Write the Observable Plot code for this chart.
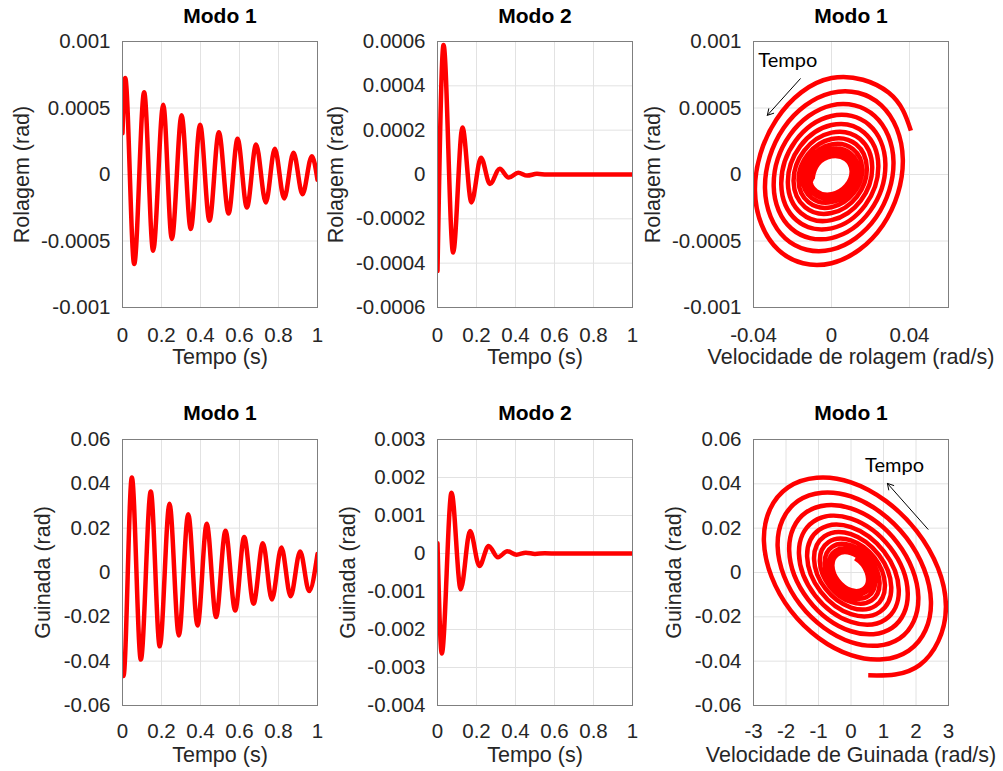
<!DOCTYPE html>
<html><head><meta charset="utf-8">
<script src="https://cdn.jsdelivr.net/npm/d3@7"></script>
<script src="https://cdn.jsdelivr.net/npm/@observablehq/plot@0.6"></script>
<style>
html,body{margin:0;padding:0;background:#fff;}
#fig{position:relative;width:1003px;height:771px;overflow:hidden;background:#fff;}
#fig svg{position:absolute;}
</style></head><body><div id="fig"></div>
<script>
// ---------- tick labels ----------
const timeTicks = [0, 0.2, 0.4, 0.6, 0.8, 1];
const rollTicks1 = [-0.001, -0.0005, 0, 0.0005, 0.001];
const rollTicks2 = [-0.0006, -0.0004, -0.0002, 0, 0.0002, 0.0004, 0.0006];
const yawTicks1 = [-0.06, -0.04, -0.02, 0, 0.02, 0.04, 0.06];
const yawTicks2 = [-0.004, -0.003, -0.002, -0.001, 0, 0.001, 0.002, 0.003];
const rollRateTicks = [-0.04, 0, 0.04];
const yawRateTicks = [-3, -2, -1, 0, 1, 2, 3];

// ---------- Rolagem, Modo 1 (time series, extrema) ----------
const rollM1Time = [0, 0.014, 0.06, 0.111, 0.157, 0.209, 0.253, 0.303, 0.35, 0.398, 0.446, 0.494, 0.544, 0.59, 0.638, 0.685, 0.735, 0.781, 0.829, 0.877, 0.923, 0.971, 1];
const rollM1 = [3.1e-4, 7.25e-4, -6.73e-4, 6.18e-4, -5.73e-4, 5.25e-4, -4.85e-4, 4.45e-4, -4.10e-4, 3.75e-4, -3.48e-4, 3.18e-4, -2.93e-4, 2.68e-4, -2.48e-4, 2.25e-4, -2.10e-4, 1.93e-4, -1.80e-4, 1.63e-4, -1.48e-4, 1.38e-4, -0.4e-4];

// ---------- Rolagem, Modo 2 ----------
const rollM2Time = [0, 0.031, 0.08, 0.128, 0.174, 0.223, 0.269, 0.319, 0.365, 0.414, 0.46, 0.51, 0.56, 0.65, 1];
const rollM2 = [-4.35e-4, 5.84e-4, -3.52e-4, 2.12e-4, -1.26e-4, 0.76e-4, -0.43e-4, 0.26e-4, -0.14e-4, 0.08e-4, -0.05e-4, 0.03e-4, 0, 0, 0];

// ---------- Rolagem, Modo 1: phase portrait (rate, angle) ----------
const rollPhaseRate = [0.0407,
 0.02925, 0, -0.02824, -0.03925, -0.02727, 0, 0.02633, 0.03658,
 0.02542, 0, -0.02454, -0.03411, -0.0237, 0, 0.02288, 0.03179,
 0.02209, 0, -0.02133, -0.02964, -0.02059, 0, 0.01988, 0.02763,
 0.0192, 0, -0.01853, -0.02576, -0.0179, 0, 0.01728, 0.02401,
 0.01668, 0, -0.01611, -0.02238, -0.01555, 0, 0.01502, 0.02086,
 0.0145, 0, -0.014, -0.01945, -0.01352, 0, 0.01305, 0.01813,
 0.0126, 0, -0.01216, -0.0169, -0.01174, 0, 0.01134, 0.01575,
 0.01095, 0, -0.01057, -0.01469, -0.01021, 0, 0.00985, 0.01369,
 0.00951, 0, -0.00918, -0.01276, -0.00887, 0, 0.00856, 0.0119,
 0.00827, 0, -0.00798, -0.01109, -0.0077, 0, 0.00744, 0.01034,
 0.00718, 0, -0.00694, -0.00964, -0.0093];
const rollPhaseAngle = [3.3e-4,
 6.16e-4, 7.25e-4, 4.14e-4, -1.23e-4, -5.67e-4, -6.67e-4, -3.81e-4, 1.13e-4,
 5.22e-4, 6.14e-4, 3.50e-4, -1.04e-4, -4.80e-4, -5.65e-4, -3.22e-4, 0.96e-4,
 4.41e-4, 5.20e-4, 2.97e-4, -0.88e-4, -4.06e-4, -4.78e-4, -2.73e-4, 0.81e-4,
 3.74e-4, 4.40e-4, 2.51e-4, -0.74e-4, -3.44e-4, -4.05e-4, -2.31e-4, 0.68e-4,
 3.16e-4, 3.72e-4, 2.12e-4, -0.63e-4, -2.91e-4, -3.43e-4, -1.96e-4, 0.58e-4,
 2.68e-4, 3.15e-4, 1.80e-4, -0.53e-4, -2.46e-4, -2.90e-4, -1.66e-4, 0.49e-4,
 2.27e-4, 2.67e-4, 1.52e-4, -0.45e-4, -2.09e-4, -2.46e-4, -1.40e-4, 0.42e-4,
 1.92e-4, 2.26e-4, 1.29e-4, -0.38e-4, -1.77e-4, -2.08e-4, -1.19e-4, 0.35e-4,
 1.62e-4, 1.91e-4, 1.09e-4, -0.32e-4, -1.49e-4, -1.76e-4, -1.00e-4, 0.30e-4,
 1.38e-4, 1.62e-4, 0.92e-4, -0.27e-4, -1.26e-4, -1.49e-4, -0.85e-4, 0.25e-4,
 1.16e-4, 1.37e-4, 0.78e-4, -0.23e-4, -0.5e-4];

// ---------- Guinada, Modo 1 ----------
const yawM1Time = [0, 0.005, 0.048, 0.094, 0.145, 0.191, 0.241, 0.289, 0.337, 0.385, 0.432, 0.48, 0.528, 0.578, 0.624, 0.672, 0.72, 0.766, 0.815, 0.862, 0.911, 0.957, 1];
const yawM1 = [-0.046, -0.0467, 0.0429, -0.0393, 0.0365, -0.0333, 0.031, -0.0284, 0.0263, -0.0239, 0.022, -0.0201, 0.0188, -0.0171, 0.016, -0.0141, 0.0132, -0.0122, 0.0113, -0.0107, 0.0095, -0.0084, 0.0083];

// ---------- Guinada, Modo 2 ----------
const yawM2Time = [0, 0.022, 0.072, 0.119, 0.167, 0.215, 0.262, 0.31, 0.358, 0.405, 0.453, 0.5, 0.55, 0.62, 1];
const yawM2 = [2.7e-4, -26.3e-4, 16.0e-4, -9.4e-4, 5.9e-4, -3.3e-4, 2.0e-4, -1.0e-4, 0.6e-4, -0.3e-4, 0.2e-4, -0.1e-4, 0.05e-4, 0, 0];

// ---------- Guinada, Modo 1: phase portrait (rate, angle) ----------
const yawPhaseRate = [0.53, 2.11,
 2.92, 2.021, 0, -1.936, -2.68, -1.855, 0, 1.777,
 2.46, 1.703, 0, -1.631, -2.258, -1.563, 0, 1.497,
 2.072, 1.435, 0, -1.374, -1.902, -1.317, 0, 1.262,
 1.746, 1.208, 0, -1.158, -1.602, -1.109, 0, 1.063,
 1.471, 1.018, 0, -0.975, -1.35, -0.934, 0, 0.895,
 1.239, 0.858, 0, -0.822, -1.137, -0.787, 0, 0.754,
 1.044, 0.723, 0, -0.692, -0.958, -0.663, 0, 0.635,
 0.879, 0.609, 0, -0.583, -0.807, -0.559, 0, 0.535,
 0.741, 0.513, 0, -0.491, -0.68, -0.471, 0, 0.451,
 0.624, 0.432, 0, -0.414, -0.573, -0.396, 0, 0.38,
 0.526, 0.364, 0.13];
const yawPhaseAngle = [-0.0464, -0.0418,
 -0.0154, 0.0187, 0.0407, 0.0384, 0.0142, -0.0172, -0.0373, -0.0352,
 -0.0130, 0.0157, 0.0343, 0.0323, 0.0119, -0.0145, -0.0314, -0.0297,
 -0.0110, 0.0133, 0.0289, 0.0272, 0.0101, -0.0122, -0.0265, -0.0250,
 -0.0092, 0.0112, 0.0243, 0.0230, 0.0085, -0.0103, -0.0223, -0.0211,
 -0.0078, 0.0094, 0.0205, 0.0193, 0.0071, -0.0086, -0.0188, -0.0177,
 -0.0066, 0.0079, 0.0173, 0.0163, 0.0060, -0.0073, -0.0158, -0.0150,
 -0.0055, 0.0067, 0.0145, 0.0137, 0.0051, -0.0061, -0.0133, -0.0126,
 -0.0047, 0.0056, 0.0122, 0.0116, 0.0043, -0.0052, -0.0112, -0.0106,
 -0.0039, 0.0047, 0.0103, 0.0097, 0.0036, -0.0044, -0.0095, -0.0089,
 -0.0033, 0.0040, 0.0087, 0.0082, 0.0030, -0.0037, -0.0080, -0.0075,
 -0.0028, 0.0034, 0.0064];

// ---------- build ----------
const zipXY = (xs, ys) => xs.map((x, i) => ({x, y: ys[i]}));
const RED = "#ff0000";
const LW = 4.5;
const ML = 120, MR = 10, MT = 45, MB = 70, W = 195, H = 266;
const FONT = "'Liberation Sans', Arial, sans-serif";
const TICK_FS = 20.5;
const fig = document.getElementById("fig");
const fmt = d => String(d);

function panel({left, top, title, titleDy, xDomain, yDomain, xTicks, yTicks, xLabel, yLabel, yLabelOffset, xPad, marks}) {
  const svg = Plot.plot({
    width: W + ML + MR, height: H + MT + MB,
    marginLeft: ML, marginRight: MR, marginTop: MT, marginBottom: MB,
    style: {fontFamily: FONT, fontSize: TICK_FS + "px", color: "#262626", background: "none", overflow: "visible"},
    x: {domain: xDomain},
    y: {domain: yDomain},
    marks: [
      Plot.ruleX(xTicks, {stroke: "#e2e2e2", strokeWidth: 1}),
      Plot.ruleY(yTicks, {stroke: "#e2e2e2", strokeWidth: 1}),
      ...marks,
      Plot.frame({stroke: "#7f7f7f", strokeWidth: 1}),
      Plot.axisX({ticks: xTicks, tickFormat: fmt, tickSize: 0, tickPadding: xPad, label: null, fontSize: TICK_FS, fill: "#262626"}),
      Plot.axisY({ticks: yTicks, tickFormat: fmt, tickSize: 0, tickPadding: 12, label: null, fontSize: TICK_FS, fill: "#262626"}),
      Plot.text([title], {text: d => d, frameAnchor: "top", lineAnchor: "middle", textAnchor: "middle", dy: titleDy, fontWeight: "bold", fontSize: 21, fill: "#000"}),
      Plot.text([xLabel], {text: d => d, frameAnchor: "bottom", lineAnchor: "bottom", textAnchor: "middle", dy: 56, fontSize: 21.5, fill: "#262626"}),
      Plot.text([yLabel], {text: d => d, frameAnchor: "left", rotate: -90, lineAnchor: "top", textAnchor: "middle", dx: -yLabelOffset, fontSize: 21.5, fill: "#262626"})
    ]
  });
  svg.style.left = (left - ML) + "px";
  svg.style.top = (top - MT) + "px";
  fig.appendChild(svg);
}

const tsLine = (t, v) => Plot.line(zipXY(t, v), {x: "x", y: "y", curve: "monotone-x", stroke: RED, strokeWidth: LW, strokeLinejoin: "round", clip: true});
const phLine = (a, b) => Plot.line(zipXY(a, b), {x: "x", y: "y", curve: "natural", stroke: RED, strokeWidth: LW, strokeLinejoin: "round", strokeLinecap: "butt", clip: true});

panel({left: 122, top: 41, title: "Modo 1", titleDy: -25, xDomain: [0, 1], yDomain: [-0.001, 0.001],
  xTicks: timeTicks, yTicks: rollTicks1, xLabel: "Tempo (s)", yLabel: "Rolagem (rad)", yLabelOffset: 109, xPad: 20,
  marks: [tsLine(rollM1Time, rollM1)]});
panel({left: 437, top: 41, title: "Modo 2", titleDy: -25, xDomain: [0, 1], yDomain: [-0.0006, 0.0006],
  xTicks: timeTicks, yTicks: rollTicks2, xLabel: "Tempo (s)", yLabel: "Rolagem (rad)", yLabelOffset: 110, xPad: 20,
  marks: [tsLine(rollM2Time, rollM2)]});
panel({left: 753, top: 41, title: "Modo 1", titleDy: -25, xDomain: [-0.04, 0.06], yDomain: [-0.001, 0.001],
  xTicks: rollRateTicks, yTicks: rollTicks1, xLabel: "Velocidade de rolagem (rad/s)", yLabel: "Rolagem (rad)", yLabelOffset: 109, xPad: 20,
  marks: [
    phLine(rollPhaseRate, rollPhaseAngle),
    Plot.arrow([0], {x1: () => -0.016, y1: () => 0.00072, x2: () => -0.0329, y2: () => 0.000445, stroke: "#000", strokeWidth: 1, headLength: 10}),
    Plot.text(["Tempo"], {x: () => -0.0224, y: () => 0.000855, text: d => d, fontFamily: "Lato, 'Open Sans', sans-serif", fontSize: 20, fill: "#000"})
  ]});
panel({left: 122, top: 439, title: "Modo 1", titleDy: -26.5, xDomain: [0, 1], yDomain: [-0.06, 0.06],
  xTicks: timeTicks, yTicks: yawTicks1, xLabel: "Tempo (s)", yLabel: "Guinada (rad)", yLabelOffset: 88, xPad: 18,
  marks: [tsLine(yawM1Time, yawM1)]});
panel({left: 437, top: 439, title: "Modo 2", titleDy: -26.5, xDomain: [0, 1], yDomain: [-0.004, 0.003],
  xTicks: timeTicks, yTicks: yawTicks2, xLabel: "Tempo (s)", yLabel: "Guinada (rad)", yLabelOffset: 98, xPad: 18,
  marks: [tsLine(yawM2Time, yawM2)]});
panel({left: 753, top: 439, title: "Modo 1", titleDy: -26.5, xDomain: [-3, 3], yDomain: [-0.06, 0.06],
  xTicks: yawRateTicks, yTicks: yawTicks1, xLabel: "Velocidade de Guinada (rad/s)", yLabel: "Guinada (rad)", yLabelOffset: 88, xPad: 18,
  marks: [
    phLine(yawPhaseRate, yawPhaseAngle),
    Plot.arrow([0], {x1: () => 2.37, y1: () => 0.0195, x2: () => 1.12, y2: () => 0.0402, stroke: "#000", strokeWidth: 1, headLength: 10}),
    Plot.text(["Tempo"], {x: () => 1.34, y: () => 0.0483, text: d => d, fontFamily: "Lato, 'Open Sans', sans-serif", fontSize: 20, fill: "#000"})
  ]});
</script>
</body></html>
